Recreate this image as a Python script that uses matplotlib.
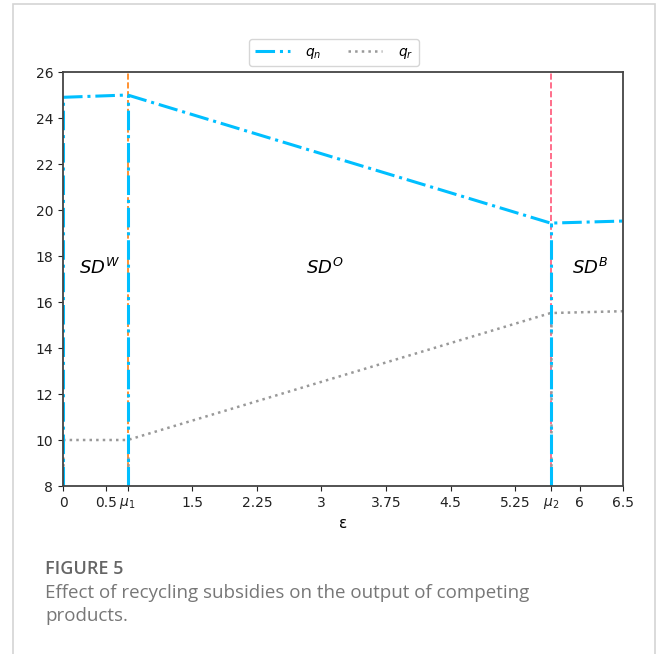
import matplotlib
matplotlib.use("Agg")
import matplotlib.pyplot as plt
from matplotlib.patches import Rectangle

# Regime boundaries
mu1 = 0.75
mu2 = 5.66

# Output curves (epsilon, quantity)
eps = [0.0, mu1, mu2, 6.5]
q_n = [24.9, 25.0, 19.43, 19.52]
q_r = [10.0, 10.0, 15.52, 15.6]

x_ticks = [0, 0.5, mu1, 1.5, 2.25, 3, 3.75, 4.5, 5.25, mu2, 6, 6.5]
x_ticklabels = ["0", "0.5", r"$\mu_1$", "1.5", "2.25", "3", "3.75", "4.5", "5.25", r"$\mu_2$", "6", "6.5"]
y_ticks = [8, 10, 12, 14, 16, 18, 20, 22, 24, 26]

regions = [(0.43, "$SD^W$"), (3.04, "$SD^O$"), (6.12, "$SD^B$")]

fig = plt.figure(figsize=(6.58, 6.54), dpi=100)

# Outer panel frame (open at the bottom)
fig.patches.append(Rectangle((13 / 658, -0.05), (655 - 13) / 658, 1.044,
                             transform=fig.transFigure, fill=False,
                             edgecolor="#d4d4d4", linewidth=1.2))

ax = fig.add_axes([63 / 658, 168 / 654, 560 / 658, 414 / 654])

cyan = "#00bfff"
gray = "#999999"

ax.axvline(mu1, color="#ff7f0e", linestyle="--", linewidth=1.2, zorder=1)
ax.axvline(mu2, color="#ff5577", linestyle="--", linewidth=1.2, zorder=1)

ln_n, = ax.plot(eps, q_n, color=cyan, linestyle="-.", linewidth=2.2, label="$q_n$")
ln_r, = ax.plot(eps, q_r, color=gray, linestyle=":", linewidth=1.8, label="$q_r$")

# Vertical drops of each series at the regime switches
for xv, yn, yr in [(eps[0], q_n[0], q_r[0]), (eps[1], q_n[1], q_r[1]), (eps[2], q_n[2], q_r[2])]:
    ax.plot([xv, xv], [8, yr], color=gray, linestyle=":", linewidth=1.8, zorder=2)
    ax.plot([xv, xv], [8, yn], color=cyan, linestyle="-.", linewidth=2.2, zorder=2)

for xv, txt in regions:
    ax.text(xv, 17.5, txt, fontsize=13, ha="center", va="center")

ax.set_xlim(0, 6.5)
ax.set_ylim(8, 26)
ax.set_xticks(x_ticks)
ax.set_xticklabels(x_ticklabels)
ax.set_yticks(y_ticks)
ax.tick_params(labelsize=10, colors="#222222")
ax.set_xlabel("ε", fontsize=11)
for s in ax.spines.values():
    s.set_linewidth(1.3)
    s.set_color("#444444")

ax.legend(handles=[ln_n, ln_r], loc="center", bbox_to_anchor=(0.484, 1.047),
          ncol=2, fontsize=10, handlelength=2.5, columnspacing=1.9,
          handletextpad=1.1, frameon=True)

fig.text(45 / 658, 1 - 569 / 654, "FIGURE 5", fontsize=13, color="#666666",
         family="Open Sans", weight="semibold", va="center")
fig.text(45 / 658, 1 - 593 / 654, "Effect of recycling subsidies on the output of competing",
         fontsize=13.5, color="#777777", family="Open Sans", va="center")
fig.text(45 / 658, 1 - 616 / 654, "products.", fontsize=13.5, color="#777777",
         family="Open Sans", va="center")

fig.savefig("out.png", dpi=100)
